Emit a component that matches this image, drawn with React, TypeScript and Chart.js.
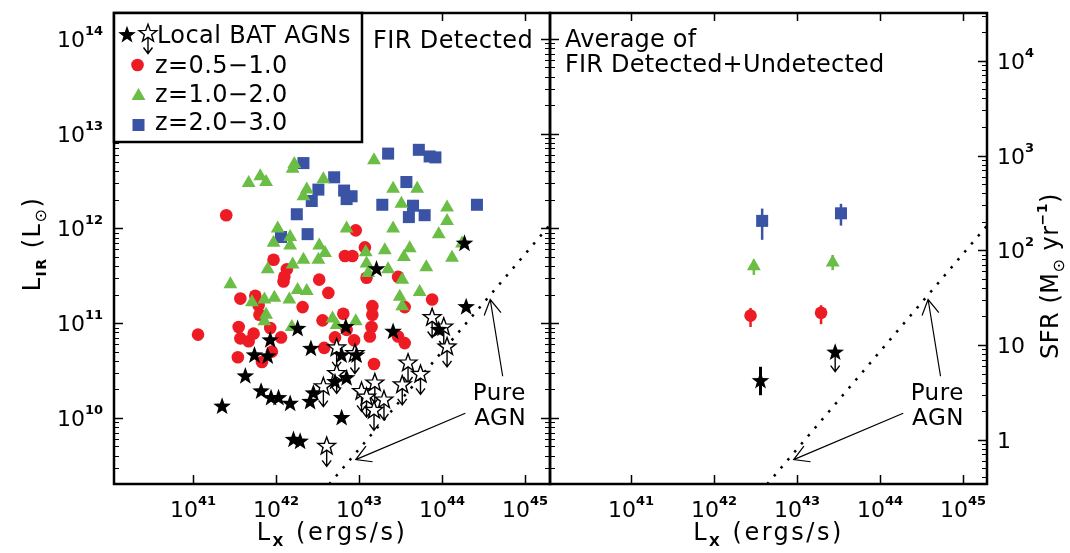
import React, { useEffect, useRef } from "react";
import { Chart, registerables } from "chart.js";
Chart.register(...registerables);

const FONT = '"DejaVu Sans", "Liberation Sans", sans-serif';
const RED = "#ED1C24";
const GREEN = "#6ABD45";
const BLUE = "#3A53A4";

// ---- axis ranges (log10) ----
const LEFT_LOGX_RANGE = [40.048, 45.3];
const RIGHT_LOGX_RANGE = [40.023, 45.29];
const LOGLIR_RANGE = [9.303, 14.274];
const X_MAJOR_EXP = [41, 42, 43, 44, 45];
const Y_MAJOR_EXP = [10, 11, 12, 13, 14];
const SFR_MAJOR_EXP = [0, 1, 2, 3, 4];
const SFR_LABELS = ["1", "10", "10^2", "10^3", "10^4"];
const LOG_LIR_PER_SFR = 9.77;

// ---- left panel: FIR detected (log10 Lx [erg/s], log10 LIR [Lsun]) ----
const Z05_LOGLX = [41.40, 42.96, 43.07, 42.83, 42.92, 41.97, 42.13, 42.10, 42.09, 42.52, 42.63, 43.09, 43.47, 41.57, 41.75, 41.79, 41.80, 42.32, 42.81, 42.56, 43.16, 43.16, 43.55, 43.88, 41.06, 41.55, 41.57, 41.67, 41.73, 41.93, 42.06, 42.71, 42.94, 43.15, 43.13, 43.47, 43.55, 41.54, 41.83, 41.95, 42.58, 43.18, 42.85];
const Z05_LOGLIR = [12.14, 11.98, 11.80, 11.71, 11.71, 11.67, 11.57, 11.49, 11.44, 11.46, 11.32, 11.48, 11.49, 11.26, 11.29, 11.19, 11.09, 11.17, 11.10, 11.03, 11.18, 11.09, 11.17, 11.25, 10.88, 10.96, 10.84, 10.81, 10.89, 10.95, 10.85, 10.85, 10.82, 10.96, 10.86, 10.86, 10.79, 10.64, 10.59, 10.70, 10.74, 10.57, 10.93];

const Z1_LOGLX = [41.67, 41.81, 41.88, 42.20, 42.22, 43.18, 42.57, 42.37, 42.33, 43.41, 43.70, 43.51, 44.06, 44.06, 43.96, 43.41, 42.85, 42.02, 42.17, 41.97, 42.17, 42.52, 43.31, 43.61, 44.24, 42.59, 43.08, 43.54, 44.12, 42.33, 42.51, 42.20, 41.90, 43.09, 43.35, 43.81, 43.11, 43.52, 41.45, 42.26, 42.37, 43.73, 41.98, 41.86, 42.16, 41.71, 43.49, 43.52, 41.88, 41.86, 42.68, 42.73, 42.96, 42.19];
const Z1_LOGLIR = [12.48, 12.55, 12.49, 12.63, 12.68, 12.72, 12.52, 12.41, 12.34, 12.42, 12.42, 12.26, 12.22, 12.08, 11.94, 12.00, 12.00, 12.00, 11.91, 11.85, 11.82, 11.82, 11.77, 11.79, 11.84, 11.74, 11.75, 11.70, 11.69, 11.67, 11.67, 11.62, 11.57, 11.63, 11.57, 11.59, 11.53, 11.46, 11.41, 11.35, 11.34, 11.33, 11.27, 11.25, 11.25, 11.22, 11.28, 11.18, 11.09, 11.02, 11.05, 10.98, 11.02, 10.96];

const Z2_LOGLX = [42.33, 43.35, 43.72, 43.85, 43.92, 42.70, 42.51, 42.43, 42.82, 42.85, 42.91, 43.57, 43.28, 43.65, 43.60, 43.79, 44.42, 42.25, 42.38, 42.06];
const Z2_LOGLIR = [12.69, 12.79, 12.83, 12.76, 12.75, 12.54, 12.41, 12.29, 12.40, 12.31, 12.34, 12.49, 12.25, 12.24, 12.12, 12.14, 12.25, 12.15, 11.94, 11.91];

const BAT_DET_LOGLX = [44.27, 43.21, 44.29, 42.26, 42.84, 43.41, 41.93, 42.42, 41.74, 41.90, 42.79, 42.97, 43.96, 41.63, 41.82, 41.94, 42.03, 42.17, 42.41, 42.45, 41.35, 42.71, 42.85, 42.79, 42.21, 42.29];
const BAT_DET_LOGLIR = [11.84, 11.57, 11.17, 10.94, 10.96, 10.91, 10.82, 10.73, 10.66, 10.65, 10.66, 10.66, 10.93, 10.44, 10.28, 10.21, 10.21, 10.15, 10.17, 10.26, 10.12, 10.38, 10.42, 10.00, 9.77, 9.75];

const BAT_UL_LOGLX = [43.88, 44.02, 44.06, 42.73, 42.95, 43.59, 43.74, 43.52, 43.19, 42.57, 42.73, 43.03, 43.09, 43.30, 43.18, 42.61];
const BAT_UL_LOGLIR = [11.06, 10.96, 10.75, 10.74, 10.68, 10.58, 10.46, 10.35, 10.37, 10.33, 10.47, 10.28, 10.22, 10.19, 10.08, 9.70];

// ---- right panel: averages of detected + undetected ----
const AVG_Z05_LOGLX = [42.44, 43.29];
const AVG_Z05_LOGLIR = [11.08, 11.11];
const AVG_Z05_LO = [10.96, 10.99];
const AVG_Z05_HI = [11.16, 11.19];
const AVG_Z1_LOGLX = [42.48, 43.43];
const AVG_Z1_LOGLIR = [11.60, 11.64];
const AVG_Z1_LO = [11.51, 11.56];
const AVG_Z1_HI = [11.67, 11.72];
const AVG_Z2_LOGLX = [42.58, 43.53];
const AVG_Z2_LOGLIR = [12.08, 12.16];
const AVG_Z2_LO = [11.88, 12.03];
const AVG_Z2_HI = [12.21, 12.26];
const AVG_BAT_LOGLX = [42.56];
const AVG_BAT_LOGLIR = [10.39];
const AVG_BAT_LO = [10.24];
const AVG_BAT_HI = [10.54];
const AVG_BAT_UL_LOGLX = [43.46];
const AVG_BAT_UL_LOGLIR = [10.69];

// ---- "Pure AGN" relation and annotation ----
const AGN_LINE_LOGLX = [42.64, 45.32];
const AGN_LINE_LOGLIR = [9.30, 12.06];
const AGN_ARROW_TAIL_LOGLX = [44.73, 44.28];
const AGN_ARROW_TAIL_LOGLIR = [10.44, 10.05];
const AGN_ARROW_TIP_LOGLX = [44.58, 42.96];
const AGN_ARROW_TIP_LOGLIR = [11.25, 9.56];
const AGN_TEXT = ["Pure", "AGN"];
const AGN_TEXT_LOGLX = [44.69, 44.70];
const AGN_TEXT_LOGLIR = [10.279, 10.015];

const LEGEND_LABELS = ["Local BAT AGNs", "z=0.5\u22121.0", "z=1.0\u22122.0", "z=2.0\u22123.0"];

// ---------------------------------------------------------------
const toPts = (lx: number[], ly: number[]) => lx.map((v, i) => ({ x: 10 ** v, y: 10 ** ly[i] }));

function starPath(g: CanvasRenderingContext2D, cx: number, cy: number, R: number, r: number) {
  g.beginPath();
  for (let i = 0; i < 10; i++) {
    const a = -Math.PI / 2 + (i * Math.PI) / 5;
    const rad = i % 2 === 0 ? R : r;
    const x = cx + rad * Math.cos(a);
    const y = cy + rad * Math.sin(a);
    if (i === 0) g.moveTo(x, y);
    else g.lineTo(x, y);
  }
  g.closePath();
}

function drawStar(g: CanvasRenderingContext2D, cx: number, cy: number, filled: boolean, arrow: number) {
  const R = 9.3, r = 3.8;
  if (arrow > 0) {
    g.save();
    g.strokeStyle = "#000";
    g.lineWidth = 1.4;
    g.beginPath();
    g.moveTo(cx, cy);
    g.lineTo(cx, cy + arrow);
    g.moveTo(cx - 4.5, cy + arrow - 6);
    g.lineTo(cx, cy + arrow);
    g.lineTo(cx + 4.5, cy + arrow - 6);
    g.stroke();
    g.restore();
  }
  starPath(g, cx, cy, R, r);
  if (filled) {
    g.fillStyle = "#000";
    g.fill();
  } else {
    g.fillStyle = "#fff";
    g.fill();
    g.strokeStyle = "#000";
    g.lineWidth = 1.4;
    g.lineJoin = "miter";
    g.stroke();
  }
}

type Part = { t: string; size: number; dy?: number; bold?: boolean };
function fontOf(p: Part) {
  return `${p.bold ? "bold " : ""}${p.size}px ${FONT}`;
}
function setSpacing(g: any, s: number) {
  if ("letterSpacing" in g) g.letterSpacing = `${s}px`;
}
function richWidth(g: CanvasRenderingContext2D, parts: Part[]) {
  let w = 0;
  for (const p of parts) {
    g.font = fontOf(p);
    w += g.measureText(p.t).width;
  }
  return w;
}
function drawRich(g: CanvasRenderingContext2D, parts: Part[], x: number, y: number, align: "left" | "center" | "right", spacing = 0) {
  g.save();
  setSpacing(g, spacing);
  const w = richWidth(g, parts);
  let cx = align === "left" ? x : align === "center" ? x - w / 2 : x - w;
  g.textAlign = "left";
  g.textBaseline = "alphabetic";
  g.fillStyle = "#000";
  for (const p of parts) {
    g.font = fontOf(p);
    g.fillText(p.t, cx, y + (p.dy || 0));
    cx += g.measureText(p.t).width;
  }
  g.restore();
}
function powParts(label: string): Part[] {
  const [b, e] = label.split("^");
  const parts: Part[] = [{ t: b, size: 22 }];
  if (e) parts.push({ t: e, size: 13, dy: -12, bold: true });
  return parts;
}

const TITLE_X: Part[] = [
  { t: "L", size: 24 },
  { t: "X", size: 14, dy: 6, bold: true },
  { t: " (ergs/s)", size: 24 },
];

function drawStarsFromMeta(chart: any) {
  const g: CanvasRenderingContext2D = chart.ctx;
  const { left, right, top, bottom } = chart.chartArea;
  g.save();
  g.beginPath();
  g.rect(left, top, right - left, bottom - top);
  g.clip();
  const ds = chart.data.datasets;
  for (let i = ds.length - 1; i >= 0; i--) {
    const kind = ds[i].starKind;
    if (!kind) continue;
    const meta = chart.getDatasetMeta(i);
    for (const el of meta.data) {
      drawStar(g, el.x, el.y, kind.filled, kind.arrow);
    }
  }
  g.restore();
}

function drawFrameAndTicks(chart: any, side: "left" | "right") {
  const g: CanvasRenderingContext2D = chart.ctx;
  const { left, right, top, bottom } = chart.chartArea;
  const xs = chart.scales.x;
  const ys = chart.scales.y;
  g.save();
  g.strokeStyle = "#000";
  g.lineWidth = 1.5;
  g.beginPath();
  for (const e of X_MAJOR_EXP) {
    const px = Math.round(xs.getPixelForValue(10 ** e)) + 0.5;
    g.moveTo(px, bottom);
    g.lineTo(px, bottom - 9);
    g.moveTo(px, top);
    g.lineTo(px, top + 8);
  }
  g.stroke();
  const drawLogTicks = (offset: number, lo: number, hi: number, x0: number, dir: number) => {
    for (let e = Math.floor(lo); e <= Math.ceil(hi); e++) {
      for (let m = 1; m <= 9; m++) {
        const lv = e + Math.log10(m);
        if (lv < lo || lv > hi) continue;
        const py = Math.round(ys.getPixelForValue(10 ** (lv + offset))) + 0.5;
        const len = m === 1 ? 9 : 5;
        g.lineWidth = m === 1 ? 1.5 : 1;
        g.beginPath();
        g.moveTo(x0, py);
        g.lineTo(x0 + dir * len, py);
        g.stroke();
      }
    }
  };
  const [ylo, yhi] = LOGLIR_RANGE;
  drawLogTicks(0, ylo, yhi, left, 1);
  if (side === "left") {
    drawLogTicks(0, ylo, yhi, right, -1);
  } else {
    drawLogTicks(LOG_LIR_PER_SFR, ylo - LOG_LIR_PER_SFR, yhi - LOG_LIR_PER_SFR, right, -1);
  }
  g.lineWidth = 2.5;
  g.strokeRect(left, top, right - left, bottom - top);

  for (const e of X_MAJOR_EXP) {
    const px = xs.getPixelForValue(10 ** e);
    drawRich(g, powParts(`10^${e}`), px, bottom + 33, "center");
  }
  drawRich(g, TITLE_X, (left + right) / 2, bottom + 56, "center", 2.5);

  if (side === "left") {
    for (const e of Y_MAJOR_EXP) {
      const py = ys.getPixelForValue(10 ** e);
      drawRich(g, powParts(`10^${e}`), left - 11, py + 8, "right");
    }
    g.save();
    g.translate(left - 74, 244);
    g.rotate(-Math.PI / 2);
    drawRich(
      g,
      [
        { t: "L", size: 24 },
        { t: "IR", size: 14, dy: 6, bold: true },
        { t: " (L", size: 24 },
        { t: "\u2299", size: 16, dy: 6 },
        { t: ")", size: 24 },
      ],
      0,
      0,
      "center",
      1.5
    );
    g.restore();
  } else {
    SFR_MAJOR_EXP.forEach((e, i) => {
      const py = ys.getPixelForValue(10 ** (e + LOG_LIR_PER_SFR));
      drawRich(g, powParts(SFR_LABELS[i]), right + 10, py + 8, "left");
    });
    g.save();
    g.translate(right + 71, 276);
    g.rotate(-Math.PI / 2);
    drawRich(
      g,
      [
        { t: "SFR (M", size: 24 },
        { t: "\u2299", size: 16, dy: 6 },
        { t: " yr", size: 24 },
        { t: "\u22121", size: 14, dy: -11, bold: true },
        { t: ")", size: 24 },
      ],
      0,
      0,
      "center",
      0.5
    );
    g.restore();
  }
  g.restore();
}

function drawAgnAnnotation(chart: any) {
  const g: CanvasRenderingContext2D = chart.ctx;
  const xs = chart.scales.x;
  const ys = chart.scales.y;
  g.save();
  g.strokeStyle = "#000";
  g.lineWidth = 1.2;
  for (let i = 0; i < AGN_ARROW_TAIL_LOGLX.length; i++) {
    const x0 = xs.getPixelForValue(10 ** AGN_ARROW_TAIL_LOGLX[i]);
    const y0 = ys.getPixelForValue(10 ** AGN_ARROW_TAIL_LOGLIR[i]);
    const x1 = xs.getPixelForValue(10 ** AGN_ARROW_TIP_LOGLX[i]);
    const y1 = ys.getPixelForValue(10 ** AGN_ARROW_TIP_LOGLIR[i]);
    const ang = Math.atan2(y0 - y1, x0 - x1);
    const hl = 17, ha = (30 * Math.PI) / 180;
    g.beginPath();
    g.moveTo(x0, y0);
    g.lineTo(x1, y1);
    g.moveTo(x1 + hl * Math.cos(ang + ha), y1 + hl * Math.sin(ang + ha));
    g.lineTo(x1, y1);
    g.lineTo(x1 + hl * Math.cos(ang - ha), y1 + hl * Math.sin(ang - ha));
    g.stroke();
  }
  AGN_TEXT.forEach((t, i) => {
    const px = xs.getPixelForValue(10 ** AGN_TEXT_LOGLX[i]);
    const py = ys.getPixelForValue(10 ** AGN_TEXT_LOGLIR[i]);
    drawRich(g, [{ t, size: 23 }], px, py + 8.4, "center", 0.5);
  });
  g.restore();
}

function drawLegend(chart: any) {
  const g: CanvasRenderingContext2D = chart.ctx;
  const { left, top } = chart.chartArea;
  g.save();
  g.fillStyle = "#fff";
  g.fillRect(left, top, 248, 129);
  g.strokeStyle = "#000";
  g.lineWidth = 2.5;
  g.strokeRect(left, top, 248, 129);
  drawStar(g, left + 13, top + 22, true, 0);
  drawStar(g, left + 34, top + 20.5, false, 20);
  g.fillStyle = RED;
  g.beginPath();
  g.arc(left + 23.5, top + 52, 6.3, 0, Math.PI * 2);
  g.fill();
  g.fillStyle = GREEN;
  const tr = 8, tcx = left + 24.5, tcy = top + 83;
  g.beginPath();
  g.moveTo(tcx, tcy - tr);
  g.lineTo(tcx + tr * Math.sin((2 * Math.PI) / 3), tcy - tr * Math.cos((2 * Math.PI) / 3));
  g.lineTo(tcx + tr * Math.sin((4 * Math.PI) / 3), tcy - tr * Math.cos((4 * Math.PI) / 3));
  g.closePath();
  g.fill();
  g.fillStyle = BLUE;
  g.fillRect(left + 18.5, top + 106, 12, 12);
  const baselines = [29.7, 59.7, 88.7, 117];
  LEGEND_LABELS.forEach((t, i) => {
    drawRich(g, [{ t, size: 24 }], left + (i === 0 ? 43 : 41), top + baselines[i], "left", 0.4);
  });
  g.restore();
}

function scalesFor(xr: number[]) {
  return {
    x: { type: "logarithmic", min: 10 ** xr[0], max: 10 ** xr[1], display: false, bounds: "data" },
    y: { type: "logarithmic", min: 10 ** LOGLIR_RANGE[0], max: 10 ** LOGLIR_RANGE[1], display: false, bounds: "data" },
  };
}

const agnLineDataset = () => ({
  data: toPts(AGN_LINE_LOGLX, AGN_LINE_LOGLIR),
  showLine: true,
  borderColor: "#000",
  borderWidth: 2.5,
  borderDash: [2.5, 8],
  pointRadius: 0,
  fill: false,
});

const starDataset = (lx: number[], ly: number[], filled: boolean, arrow: number) => ({
  data: toPts(lx, ly),
  pointRadius: 0,
  starKind: { filled, arrow },
});

export default function App() {
  const leftRef = useRef<HTMLCanvasElement>(null);
  const rightRef = useRef<HTMLCanvasElement>(null);

  useEffect(() => {
    const common: any = {
      animation: false,
      responsive: false,
      events: [],
      plugins: { legend: { display: false }, tooltip: { enabled: false }, title: { display: false } },
    };

    const leftChart = new Chart(leftRef.current!, {
      type: "scatter",
      data: {
        datasets: [
          starDataset(BAT_DET_LOGLX, BAT_DET_LOGLIR, true, 0),
          starDataset(BAT_UL_LOGLX, BAT_UL_LOGLIR, false, 20),
          { data: toPts(Z1_LOGLX, Z1_LOGLIR), pointStyle: "triangle", pointRadius: 8, backgroundColor: GREEN, pointBackgroundColor: GREEN, borderWidth: 0, pointBorderWidth: 0 },
          { data: toPts(Z2_LOGLX, Z2_LOGLIR), pointStyle: "rect", pointRadius: 8.5, backgroundColor: BLUE, pointBackgroundColor: BLUE, borderWidth: 0, pointBorderWidth: 0 },
          { data: toPts(Z05_LOGLX, Z05_LOGLIR), pointStyle: "circle", pointRadius: 6.3, backgroundColor: RED, pointBackgroundColor: RED, borderWidth: 0, pointBorderWidth: 0 },
          agnLineDataset(),
        ] as any,
      },
      options: {
        ...common,
        layout: { padding: { left: 114, right: 10, top: 13, bottom: 69 } },
        scales: scalesFor(LEFT_LOGX_RANGE),
      },
      plugins: [
        {
          id: "leftDecor",
          afterDatasetsDraw(chart: any) {
            drawStarsFromMeta(chart);
            drawAgnAnnotation(chart);
            drawFrameAndTicks(chart, "left");
            drawLegend(chart);
            const { left, top } = chart.chartArea;
            drawRich(chart.ctx, [{ t: "FIR Detected", size: 24 }], left + 259, top + 35, "left", 0.4);
          },
        },
      ],
    } as any);

    const errorSets = [
      { lx: AVG_Z2_LOGLX, lo: AVG_Z2_LO, hi: AVG_Z2_HI, color: BLUE, w: 2.5 },
      { lx: AVG_Z1_LOGLX, lo: AVG_Z1_LO, hi: AVG_Z1_HI, color: GREEN, w: 2.5 },
      { lx: AVG_Z05_LOGLX, lo: AVG_Z05_LO, hi: AVG_Z05_HI, color: RED, w: 2.5 },
      { lx: AVG_BAT_LOGLX, lo: AVG_BAT_LO, hi: AVG_BAT_HI, color: "#000", w: 3 },
    ];

    const rightChart = new Chart(rightRef.current!, {
      type: "scatter",
      data: {
        datasets: [
          starDataset(AVG_BAT_LOGLX, AVG_BAT_LOGLIR, true, 0),
          starDataset(AVG_BAT_UL_LOGLX, AVG_BAT_UL_LOGLIR, true, 19),
          { data: toPts(AVG_Z1_LOGLX, AVG_Z1_LOGLIR), pointStyle: "triangle", pointRadius: 8, backgroundColor: GREEN, pointBackgroundColor: GREEN, borderWidth: 0, pointBorderWidth: 0 },
          { data: toPts(AVG_Z2_LOGLX, AVG_Z2_LOGLIR), pointStyle: "rect", pointRadius: 8.5, backgroundColor: BLUE, pointBackgroundColor: BLUE, borderWidth: 0, pointBorderWidth: 0 },
          { data: toPts(AVG_Z05_LOGLX, AVG_Z05_LOGLIR), pointStyle: "circle", pointRadius: 6.3, backgroundColor: RED, pointBackgroundColor: RED, borderWidth: 0, pointBorderWidth: 0 },
          agnLineDataset(),
        ] as any,
      },
      options: {
        ...common,
        layout: { padding: { left: 10, right: 83, top: 13, bottom: 69 } },
        scales: scalesFor(RIGHT_LOGX_RANGE),
      },
      plugins: [
        {
          id: "rightDecor",
          beforeDatasetsDraw(chart: any) {
            const g: CanvasRenderingContext2D = chart.ctx;
            const xs = chart.scales.x;
            const ys = chart.scales.y;
            g.save();
            for (const s of errorSets) {
              g.strokeStyle = s.color;
              g.lineWidth = s.w;
              s.lx.forEach((v: number, i: number) => {
                const px = xs.getPixelForValue(10 ** v);
                g.beginPath();
                g.moveTo(px, ys.getPixelForValue(10 ** s.lo[i]));
                g.lineTo(px, ys.getPixelForValue(10 ** s.hi[i]));
                g.stroke();
              });
            }
            g.restore();
          },
          afterDatasetsDraw(chart: any) {
            drawStarsFromMeta(chart);
            drawAgnAnnotation(chart);
            drawFrameAndTicks(chart, "right");
            const { left, top } = chart.chartArea;
            drawRich(chart.ctx, [{ t: "Average of", size: 24 }], left + 15, top + 34, "left", 0.2);
            drawRich(chart.ctx, [{ t: "FIR Detected+Undetected", size: 24 }], left + 15, top + 59, "left", 0.2);
          },
        },
      ],
    } as any);

    return () => {
      leftChart.destroy();
      rightChart.destroy();
    };
  }, []);

  return (
    <div style={{ position: "fixed", left: 0, top: 0, width: 1070, height: 553, background: "#fff", overflow: "hidden" }}>
      <canvas ref={leftRef} width={560} height={553} style={{ position: "absolute", left: 0, top: 0 }} />
      <canvas ref={rightRef} width={530} height={553} style={{ position: "absolute", left: 540, top: 0 }} />
    </div>
  );
}
